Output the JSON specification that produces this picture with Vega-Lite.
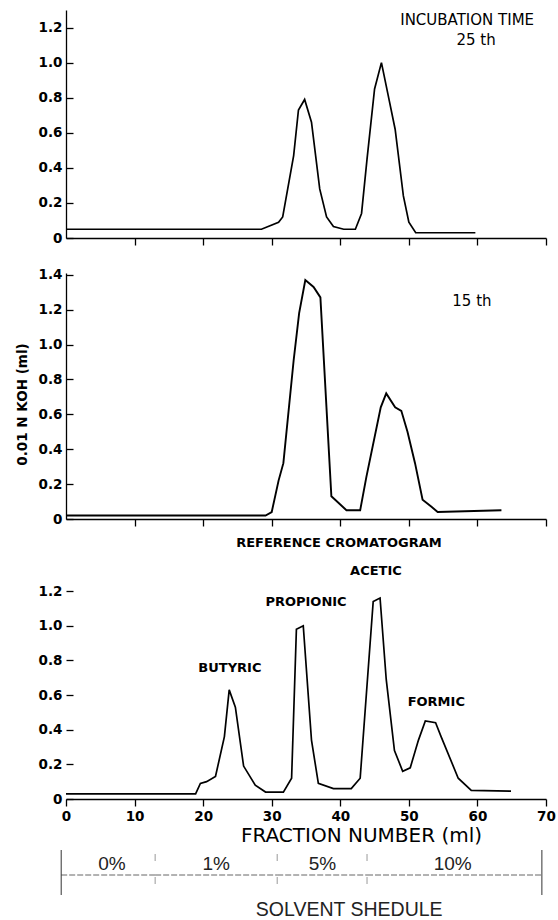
{
  "$schema": "https://vega.github.io/schema/vega-lite/v6.json",
  "background": "white",
  "padding": {"top": 10, "left": 15, "right": 5, "bottom": 5},
  "bounds": "flush",
  "spacing": 35,
  "config": {
    "view": {"stroke": null},
    "axis": {
      "grid": false,
      "domainColor": "black",
      "domainWidth": 1.3,
      "tickColor": "black",
      "tickWidth": 1.3,
      "labelColor": "black",
      "labelFont": "DejaVu Sans",
      "labelFontWeight": "bold",
      "labelFontSize": 13.5,
      "titleColor": "black",
      "titleFont": "DejaVu Sans"
    },
    "axisX": {"tickSize": 7, "labelFlush": false, "labelPadding": 3},
    "axisY": {"tickSize": -7, "labelPadding": 11}
  },
  "datasets": {
    "p25": [
      {"fraction": 0, "koh": 0.05}, {"fraction": 28.5, "koh": 0.05}, {"fraction": 31, "koh": 0.09},
      {"fraction": 31.6, "koh": 0.12}, {"fraction": 33.2, "koh": 0.47}, {"fraction": 33.9, "koh": 0.73},
      {"fraction": 34.8, "koh": 0.79}, {"fraction": 35.8, "koh": 0.66}, {"fraction": 37, "koh": 0.28},
      {"fraction": 38, "koh": 0.12}, {"fraction": 39, "koh": 0.065}, {"fraction": 40.5, "koh": 0.05},
      {"fraction": 42.2, "koh": 0.05}, {"fraction": 43.1, "koh": 0.14}, {"fraction": 43.9, "koh": 0.45},
      {"fraction": 45, "koh": 0.85}, {"fraction": 46, "koh": 1.0}, {"fraction": 47, "koh": 0.81},
      {"fraction": 48, "koh": 0.62}, {"fraction": 49.2, "koh": 0.24}, {"fraction": 50, "koh": 0.09},
      {"fraction": 51, "koh": 0.03}, {"fraction": 59.7, "koh": 0.03}
    ],
    "p15": [
      {"fraction": 0, "koh": 0.02}, {"fraction": 29.1, "koh": 0.02}, {"fraction": 30, "koh": 0.04},
      {"fraction": 31, "koh": 0.22}, {"fraction": 31.7, "koh": 0.32}, {"fraction": 33.2, "koh": 0.91},
      {"fraction": 34, "koh": 1.18}, {"fraction": 34.9, "koh": 1.37}, {"fraction": 36.1, "koh": 1.33},
      {"fraction": 37.1, "koh": 1.27}, {"fraction": 38.7, "koh": 0.13}, {"fraction": 40.9, "koh": 0.05},
      {"fraction": 42.9, "koh": 0.05}, {"fraction": 43.8, "koh": 0.24}, {"fraction": 45.9, "koh": 0.64},
      {"fraction": 46.7, "koh": 0.72}, {"fraction": 48, "koh": 0.64}, {"fraction": 48.9, "koh": 0.62},
      {"fraction": 49.8, "koh": 0.5}, {"fraction": 50.9, "koh": 0.32}, {"fraction": 52, "koh": 0.11},
      {"fraction": 53.3, "koh": 0.07}, {"fraction": 54.2, "koh": 0.04}, {"fraction": 63.5, "koh": 0.05}
    ],
    "ref": [
      {"fraction": 0, "koh": 0.03}, {"fraction": 18.9, "koh": 0.03}, {"fraction": 19.6, "koh": 0.09},
      {"fraction": 20.5, "koh": 0.1}, {"fraction": 21.8, "koh": 0.13}, {"fraction": 23.1, "koh": 0.36},
      {"fraction": 23.8, "koh": 0.63}, {"fraction": 24.7, "koh": 0.53}, {"fraction": 25.9, "koh": 0.19},
      {"fraction": 27.6, "koh": 0.08}, {"fraction": 29.1, "koh": 0.04}, {"fraction": 31.7, "koh": 0.04},
      {"fraction": 32.9, "koh": 0.12}, {"fraction": 33.6, "koh": 0.98}, {"fraction": 34.6, "koh": 1.0},
      {"fraction": 35.8, "koh": 0.34}, {"fraction": 36.8, "koh": 0.09}, {"fraction": 39, "koh": 0.06},
      {"fraction": 41.6, "koh": 0.06}, {"fraction": 42.9, "koh": 0.12}, {"fraction": 44.8, "koh": 1.14},
      {"fraction": 45.8, "koh": 1.16}, {"fraction": 46.7, "koh": 0.69}, {"fraction": 47.9, "koh": 0.28},
      {"fraction": 49.1, "koh": 0.16}, {"fraction": 50.2, "koh": 0.18}, {"fraction": 51.4, "koh": 0.34},
      {"fraction": 52.4, "koh": 0.45}, {"fraction": 53.9, "koh": 0.44}, {"fraction": 54.7, "koh": 0.36},
      {"fraction": 57.2, "koh": 0.12}, {"fraction": 59.1, "koh": 0.05}, {"fraction": 64.9, "koh": 0.045}
    ],
    "ref_labels": [
      {"fraction": 39.8, "koh": 1.477, "label": "REFERENCE CROMATOGRAM"},
      {"fraction": 45.2, "koh": 1.316, "label": "ACETIC"},
      {"fraction": 35.0, "koh": 1.137, "label": "PROPIONIC"},
      {"fraction": 23.9, "koh": 0.756, "label": "BUTYRIC"},
      {"fraction": 54.0, "koh": 0.56, "label": "FORMIC"}
    ],
    "schedule": [
      {"solvent": "0%", "start": -0.7, "end": 13, "label_at": 6.7},
      {"solvent": "1%", "start": 13, "end": 30.8, "label_at": 21.9},
      {"solvent": "5%", "start": 30.8, "end": 43.9, "label_at": 37.4},
      {"solvent": "10%", "start": 43.9, "end": 69.4, "label_at": 56.4}
    ],
    "boundaries": [
      {"fraction": -0.7, "kind": "end"},
      {"fraction": 13, "kind": "inner"},
      {"fraction": 30.8, "kind": "inner"},
      {"fraction": 43.9, "kind": "inner"},
      {"fraction": 69.4, "kind": "end"}
    ]
  },
  "vconcat": [
    {
      "width": 480,
      "height": 228,
      "encoding": {
        "x": {"field": "fraction", "type": "quantitative", "scale": {"domain": [0, 70], "nice": false, "zero": false},
              "axis": {"values": [10, 20, 30, 40, 50, 60, 70], "labels": false, "title": null}},
        "y": {"field": "koh", "type": "quantitative", "scale": {"domain": [0, 1.3], "nice": false},
              "axis": {"values": [0, 0.2, 0.4, 0.6, 0.8, 1, 1.2], "title": null,
                       "labelExpr": "datum.value == 0 ? '0' : format(datum.value, '.1f')"}}
      },
      "layer": [
        {"data": {"name": "p25"}, "mark": {"type": "line", "color": "black", "strokeWidth": 1.7}},
        {
          "data": {"values": [
            {"fraction": 58.5, "koh": 1.243, "label": "INCUBATION TIME"},
            {"fraction": 59.8, "koh": 1.13, "label": "25 th"}
          ]},
          "mark": {"type": "text", "font": "DejaVu Sans", "fontSize": 15, "color": "black", "align": "center", "baseline": "middle"},
          "encoding": {"text": {"field": "label"}}
        }
      ]
    },
    {
      "width": 480,
      "height": 246,
      "encoding": {
        "x": {"field": "fraction", "type": "quantitative", "scale": {"domain": [0, 70], "nice": false, "zero": false},
              "axis": {"values": [10, 20, 30, 40, 50, 60, 70], "labels": false, "title": null}},
        "y": {"field": "koh", "type": "quantitative", "scale": {"domain": [0, 1.41], "nice": false},
              "axis": {"values": [0, 0.2, 0.4, 0.6, 0.8, 1, 1.2, 1.4], "title": "0.01  N  KOH  (ml)",
                       "titleFontSize": 13.5, "titleFontWeight": "bold", "titlePadding": 9, "titleY": 131,
                       "labelExpr": "datum.value == 0 ? '0' : format(datum.value, '.1f')"}}
      },
      "layer": [
        {"data": {"name": "p15"}, "mark": {"type": "line", "color": "black", "strokeWidth": 1.9}},
        {
          "data": {"values": [{"fraction": 59.2, "koh": 1.25, "label": "15 th"}]},
          "mark": {"type": "text", "font": "DejaVu Sans", "fontSize": 15, "color": "black", "align": "center", "baseline": "middle"},
          "encoding": {"text": {"field": "label"}}
        }
      ]
    },
    {
      "width": 480,
      "height": 245,
      "encoding": {
        "x": {"field": "fraction", "type": "quantitative", "scale": {"domain": [0, 70], "nice": false, "zero": false},
              "axis": {"values": [0, 10, 20, 30, 40, 50, 60, 70], "title": "FRACTION NUMBER (ml)",
                       "titleFontSize": 20, "titleFontWeight": "normal", "titlePadding": 3, "titleX": 295}},
        "y": {"field": "koh", "type": "quantitative", "scale": {"domain": [0, 1.414], "nice": false},
              "axis": {"values": [0, 0.2, 0.4, 0.6, 0.8, 1, 1.2], "title": null, "domain": false,
                       "labelExpr": "datum.value == 0 ? '0' : format(datum.value, '.1f')"}}
      },
      "layer": [
        {"data": {"name": "ref"}, "mark": {"type": "line", "color": "black", "strokeWidth": 1.7}},
        {
          "data": {"values": [{"fraction": 0}]},
          "mark": {"type": "rule", "color": "black", "strokeWidth": 1.3},
          "encoding": {"y": {"datum": 0}, "y2": {"datum": 1.34}}
        },
        {
          "data": {"name": "ref_labels"},
          "mark": {"type": "text", "font": "DejaVu Sans", "fontWeight": "bold", "fontSize": 13, "color": "black", "align": "center", "baseline": "middle"},
          "encoding": {"text": {"field": "label"}}
        }
      ]
    },
    {
      "width": 480,
      "height": 80,
      "layer": [
        {
          "data": {"name": "schedule"},
          "mark": {"type": "rule", "color": "#555555", "strokeWidth": 0.9, "strokeDash": [6, 2]},
          "encoding": {
            "x": {"field": "start", "type": "quantitative", "scale": {"domain": [0, 70], "nice": false, "zero": false}, "axis": null},
            "x2": {"field": "end"},
            "y": {"datum": 0.4875, "type": "quantitative", "scale": {"domain": [0, 1], "nice": false}, "axis": null}
          }
        },
        {
          "data": {"name": "schedule"},
          "mark": {"type": "text", "font": "Liberation Sans", "fontSize": 19, "color": "#222222", "align": "center", "baseline": "middle"},
          "encoding": {
            "x": {"field": "label_at", "type": "quantitative", "scale": {"domain": [0, 70], "nice": false, "zero": false}, "axis": null},
            "y": {"datum": 0.625, "type": "quantitative", "scale": {"domain": [0, 1], "nice": false}, "axis": null},
            "text": {"field": "solvent"}
          }
        },
        {
          "data": {"name": "boundaries"},
          "transform": [{"filter": "datum.kind == 'end'"}],
          "mark": {"type": "rule", "color": "#333333", "strokeWidth": 1},
          "encoding": {
            "x": {"field": "fraction", "type": "quantitative", "scale": {"domain": [0, 70], "nice": false, "zero": false}, "axis": null},
            "y": {"datum": 0.8, "type": "quantitative", "scale": {"domain": [0, 1], "nice": false}, "axis": null},
            "y2": {"datum": 0.2375}
          }
        },
        {
          "data": {"name": "boundaries"},
          "transform": [{"filter": "datum.kind == 'inner'"}],
          "mark": {"type": "rule", "color": "#999999", "strokeWidth": 1, "strokeDash": [7, 16]},
          "encoding": {
            "x": {"field": "fraction", "type": "quantitative", "scale": {"domain": [0, 70], "nice": false, "zero": false}, "axis": null},
            "y": {"datum": 0.75, "type": "quantitative", "scale": {"domain": [0, 1], "nice": false}, "axis": null},
            "y2": {"datum": 0.2875}
          }
        },
        {
          "data": {"values": [{"fraction": 41.3, "label": "SOLVENT SHEDULE"}]},
          "mark": {"type": "text", "font": "Liberation Sans", "fontSize": 19.5, "color": "#222222", "align": "center", "baseline": "middle"},
          "encoding": {
            "x": {"field": "fraction", "type": "quantitative", "scale": {"domain": [0, 70], "nice": false, "zero": false}, "axis": null},
            "y": {"datum": 0.05, "type": "quantitative", "scale": {"domain": [0, 1], "nice": false}, "axis": null},
            "text": {"field": "label"}
          }
        }
      ]
    }
  ]
}
